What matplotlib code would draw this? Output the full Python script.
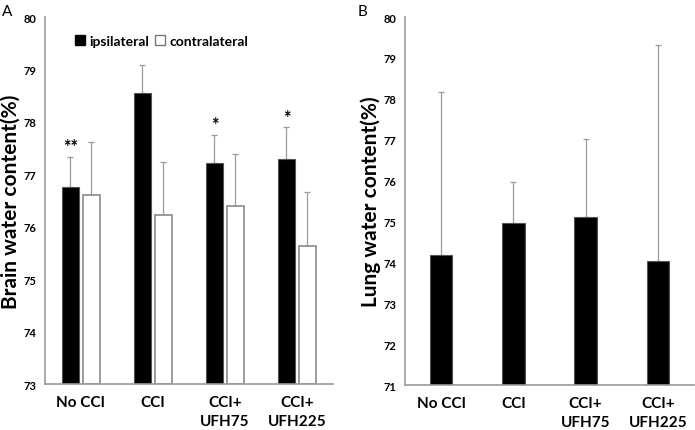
import matplotlib
matplotlib.use("Agg")
import matplotlib.pyplot as plt
from matplotlib.patches import Patch
import numpy as np

plt.rcParams['font.family'] = ['Lato', 'DejaVu Sans']

categories = ["No CCI", "CCI", "CCI+\nUFH75", "CCI+\nUFH225"]

# Panel A: brain water content
brain_ipsi = [76.76, 78.55, 77.21, 77.29]
brain_ipsi_err = [0.57, 0.53, 0.54, 0.61]
brain_contra = [76.60, 76.22, 76.39, 75.63]
brain_contra_err = [1.02, 1.01, 1.00, 1.03]
brain_sig = ["**", "", "*", "*"]

# Panel B: lung water content
lung = [74.18, 74.96, 75.11, 74.03]
lung_err = [3.99, 1.00, 1.91, 5.29]

fig = plt.figure(figsize=(6.95, 4.31), dpi=100)
axA = fig.add_axes([0.0647, 0.1067, 0.4144, 0.8515])
axB = fig.add_axes([0.5827, 0.1044, 0.4158, 0.8538])

grey = '#9a9a9a'
x = np.arange(len(categories))

def style(ax, lo, hi, label):
    ax.set_xlim(-0.5, 3.5)
    ax.set_ylim(lo, hi)
    ax.set_yticks(np.arange(lo, hi + 1))
    ax.set_xticks(x)
    ax.set_xticklabels(categories, fontsize=11, fontweight='bold', linespacing=1.45)
    for lab in ax.get_yticklabels():
        lab.set_fontsize(8)
        lab.set_fontweight('bold')
    ax.tick_params(axis='both', length=0)
    ax.tick_params(axis='y', pad=6)
    ax.tick_params(axis='x', pad=8)
    ax.spines['top'].set_visible(False)
    ax.spines['right'].set_visible(False)
    for s in ['left', 'bottom']:
        ax.spines[s].set_color(grey)
        ax.spines[s].set_linewidth(1.2)
    ax.set_ylabel(label, fontsize=15, fontweight='bold', labelpad=2)

# Panel A
w = 0.236
off = 0.146
axA.errorbar(x - off, brain_ipsi, yerr=[np.zeros(4), brain_ipsi_err], fmt='none',
             ecolor=grey, elinewidth=0.9, capsize=2, capthick=0.9, zorder=1)
axA.errorbar(x + off, brain_contra, yerr=[np.zeros(4), brain_contra_err], fmt='none',
             ecolor=grey, elinewidth=0.9, capsize=2, capthick=0.9, zorder=1)
axA.bar(x - off, np.array(brain_ipsi) - 73, bottom=73, width=w, color='black',
        edgecolor='#555555', linewidth=0.8, zorder=2)
axA.bar(x + off, np.array(brain_contra) - 73, bottom=73, width=w, color='white',
        edgecolor='#8a8a8a', linewidth=1.2, zorder=2)
for i, s in enumerate(brain_sig):
    if s:
        axA.text(x[i] - off, brain_ipsi[i] + brain_ipsi_err[i] + 0.03, s,
                 ha='center', va='bottom', fontsize=13, fontweight='bold')
style(axA, 73, 80, "Brain water content(%)")
leg = axA.legend(handles=[Patch(facecolor='black', edgecolor='black'),
                          Patch(facecolor='white', edgecolor='#777777')],
                 labels=['ipsilateral', 'contralateral'], ncol=2, frameon=False,
                 loc='upper left', bbox_to_anchor=(0.06, 0.985),
                 handlelength=0.75, handleheight=0.75, handletextpad=0.3,
                 columnspacing=0.4, prop={'weight': 'bold', 'size': 10})

# Panel B
axB.errorbar(x, lung, yerr=[np.zeros(4), lung_err], fmt='none',
             ecolor=grey, elinewidth=0.9, capsize=2, capthick=0.9, zorder=1)
axB.bar(x, np.array(lung) - 71, bottom=71, width=0.31, color='black',
        edgecolor='#555555', linewidth=0.8, zorder=2)
style(axB, 71, 80, "Lung water content(%)")

fig.text(0.003, 0.988, "A", fontsize=11, va='top', ha='left')
fig.text(0.514, 0.988, "B", fontsize=11, va='top', ha='left')

fig.savefig("out.png", dpi=100)
